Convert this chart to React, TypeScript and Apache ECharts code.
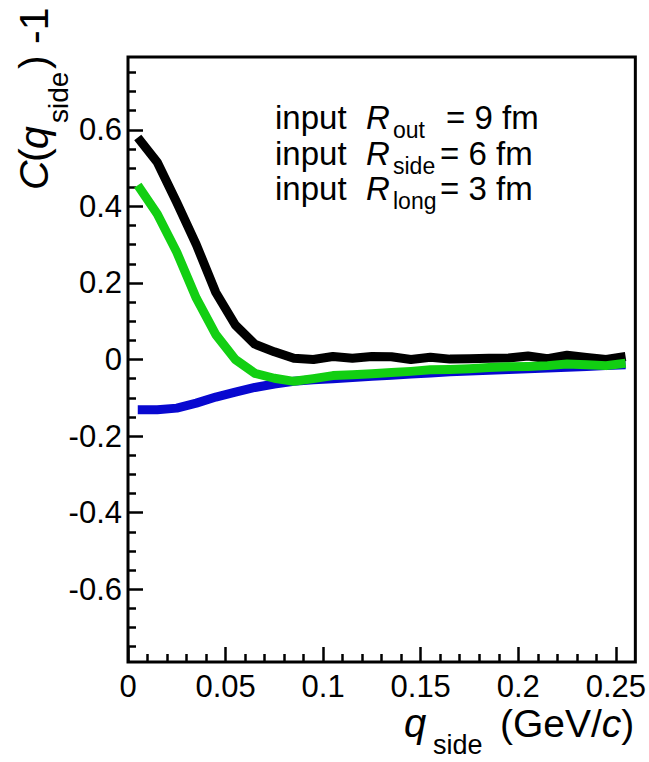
import React, { useEffect, useRef } from "react";
import * as echarts from "echarts";

// q_side bin centres (GeV/c)
const qSide = [
  0.005, 0.015, 0.025, 0.035, 0.045, 0.055, 0.065, 0.075, 0.085, 0.095,
  0.105, 0.115, 0.125, 0.135, 0.145, 0.155, 0.165, 0.175, 0.185, 0.195,
  0.205, 0.215, 0.225, 0.235, 0.245, 0.255,
];

// C(q_side) - 1 for the three curves
const blackCurve = [
  0.58, 0.515, 0.41, 0.3, 0.175, 0.09, 0.04, 0.02, 0.003, 0.0,
  0.008, 0.003, 0.008, 0.007, 0.0, 0.006, 0.001, 0.002, 0.003, 0.004,
  0.009, 0.002, 0.011, 0.005, 0.0, 0.008,
];
const greenCurve = [
  0.455, 0.38, 0.28, 0.16, 0.065, 0.0, -0.036, -0.049, -0.057, -0.05,
  -0.042, -0.04, -0.037, -0.034, -0.031, -0.027, -0.026, -0.024, -0.021, -0.019,
  -0.018, -0.016, -0.012, -0.014, -0.016, -0.01,
];
const blueCurve = [
  -0.131, -0.131, -0.127, -0.114, -0.098, -0.085, -0.073, -0.064, -0.057, -0.053,
  -0.05, -0.047, -0.044, -0.041, -0.038, -0.035, -0.032, -0.03, -0.028, -0.026,
  -0.024, -0.022, -0.02, -0.018, -0.016, -0.014,
];

// Axis ticks
const xMajorTicks = [0, 0.05, 0.1, 0.15, 0.2, 0.25];
const xMinorTicks = [
  0.01, 0.02, 0.03, 0.04, 0.06, 0.07, 0.08, 0.09, 0.11, 0.12, 0.13, 0.14,
  0.16, 0.17, 0.18, 0.19, 0.21, 0.22, 0.23, 0.24,
];
const yMajorTicks = [-0.6, -0.4, -0.2, 0, 0.2, 0.4, 0.6];
const yMinorTicks = [
  -0.75, -0.7, -0.65, -0.55, -0.5, -0.45, -0.35, -0.3, -0.25, -0.15, -0.1, -0.05,
  0.05, 0.1, 0.15, 0.25, 0.3, 0.35, 0.45, 0.5, 0.55, 0.65, 0.7, 0.75,
];

const FONT = '"Liberation Sans", Arial, Helvetica, sans-serif';

const pair = (xs: number[], ys: number[]) => xs.map((x, i) => [x, ys[i]]);

// Text piece positioned by its baseline
function piece(x: number, baseline: number, text: string, size: number, italic = false) {
  return {
    type: "text",
    x,
    y: baseline - 0.35 * size,
    silent: true,
    style: {
      text,
      fill: "#000",
      fontSize: size,
      fontFamily: FONT,
      fontStyle: italic ? "italic" : "normal",
      align: "left",
      verticalAlign: "middle",
      textAlign: "left",
      textVerticalAlign: "middle",
    },
  };
}

function annotationLine(baseline: number, sub: string, rest: string, restX: number) {
  return [
    piece(275, baseline, "input", 33),
    piece(366, baseline, "R", 33, true),
    piece(393, baseline + 9, sub, 23),
    piece(restX, baseline, rest, 33),
  ];
}

export default function App() {
  const ref = useRef<HTMLDivElement>(null);

  useEffect(() => {
    if (!ref.current) return;
    const chart = echarts.init(ref.current, undefined, { renderer: "svg" });

    const lineSeries = (data: number[], color: string, width: number) => ({
      type: "line",
      data: pair(qSide, data),
      showSymbol: false,
      symbol: "none",
      smooth: false,
      xAxisIndex: 0,
      yAxisIndex: 0,
      lineStyle: { color, width, join: "round", cap: "butt" },
      z: 3,
    });

    const tickStyle = { color: "#000", width: 2.5 };

    chart.setOption({
      animation: false,
      backgroundColor: "#fff",
      grid: {
        left: 128,
        right: 9,
        top: 57,
        bottom: 100,
        show: true,
        borderColor: "#000",
        borderWidth: 3,
        backgroundColor: "transparent",
        z: 10,
      },
      xAxis: [
        {
          type: "value",
          min: 0,
          max: 0.26,
          position: "bottom",
          axisLine: { show: false, onZero: false },
          splitLine: { show: false },
          axisTick: {
            show: true,
            inside: true,
            length: 15,
            lineStyle: tickStyle,
            customValues: xMajorTicks,
          },
          axisLabel: {
            show: true,
            customValues: xMajorTicks,
            formatter: (v: number) => String(v),
            color: "#000",
            fontSize: 31,
            fontFamily: FONT,
            margin: 9,
          },
        },
        {
          type: "value",
          min: 0,
          max: 0.26,
          position: "bottom",
          axisLine: { show: false, onZero: false },
          splitLine: { show: false },
          axisTick: {
            show: true,
            inside: true,
            length: 8,
            lineStyle: tickStyle,
            customValues: xMinorTicks,
          },
          axisLabel: { show: false },
        },
      ],
      yAxis: [
        {
          type: "value",
          min: -0.79,
          max: 0.79,
          position: "left",
          axisLine: { show: false, onZero: false },
          splitLine: { show: false },
          axisTick: {
            show: true,
            inside: true,
            length: 15,
            lineStyle: tickStyle,
            customValues: yMajorTicks,
          },
          axisLabel: {
            show: true,
            customValues: yMajorTicks,
            formatter: (v: number) => String(v),
            color: "#000",
            fontSize: 31,
            fontFamily: FONT,
            margin: 6,
          },
        },
        {
          type: "value",
          min: -0.79,
          max: 0.79,
          position: "left",
          axisLine: { show: false, onZero: false },
          splitLine: { show: false },
          axisTick: {
            show: true,
            inside: true,
            length: 8,
            lineStyle: tickStyle,
            customValues: yMinorTicks,
          },
          axisLabel: { show: false },
        },
      ],
      series: [
        lineSeries(blueCurve, "#0808d0", 9),
        lineSeries(blackCurve, "#000000", 9),
        lineSeries(greenCurve, "#12cf12", 9),
      ],
      graphic: [
        ...annotationLine(129, "out", "= 9 fm", 446),
        ...annotationLine(165, "side", "= 6 fm", 440),
        ...annotationLine(200, "long", "= 3 fm", 440),
        // x-axis title
        piece(404, 737, "q", 40, true),
        piece(433, 754, "side", 27),
        {
          type: "text",
          x: 500,
          y: 737 - 0.35 * 39,
          silent: true,
          style: {
            text: "{n|(GeV/}{i|c}{n|)}",
            fill: "#000",
            fontSize: 39,
            fontFamily: FONT,
            align: "left",
            verticalAlign: "middle",
            textAlign: "left",
            textVerticalAlign: "middle",
            rich: {
              n: { fontSize: 39, fontFamily: FONT, fill: "#000", fontStyle: "normal" },
              i: { fontSize: 39, fontFamily: FONT, fill: "#000", fontStyle: "italic" },
            },
          },
        },
        // y-axis title, rotated to read upward
        {
          type: "group",
          x: 48,
          y: 190,
          rotation: Math.PI / 2,
          children: [
            piece(0, 0, "C", 41, true),
            piece(28, 0, "(", 41),
            piece(41, 0, "q", 41, true),
            piece(67, 20, "side", 28),
            piece(121, 0, ")", 41),
            piece(146, 0, "-1", 41),
          ],
        },
      ],
    });

    return () => chart.dispose();
  }, []);

  return (
    <div
      ref={ref}
      style={{ position: "fixed", left: 0, top: 0, width: 649, height: 762, background: "#fff" }}
    />
  );
}
